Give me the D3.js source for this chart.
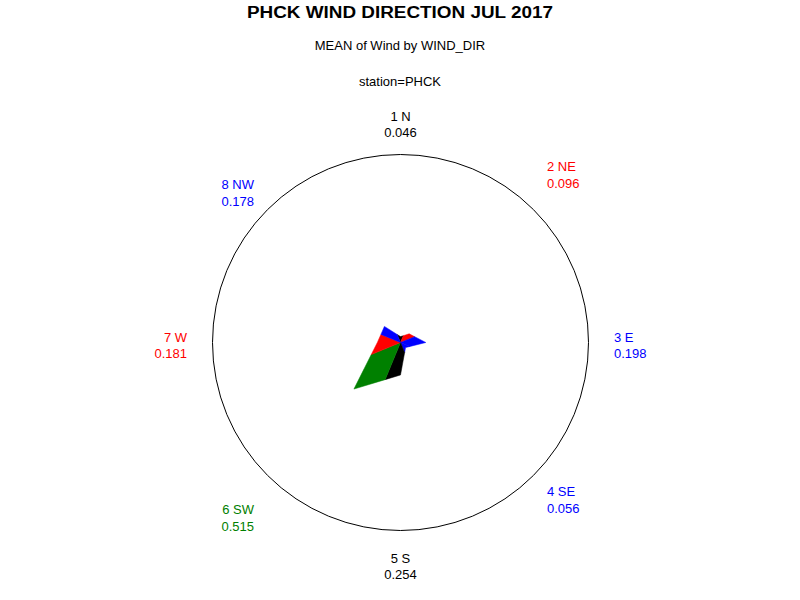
<!DOCTYPE html>
<html>
<head>
<meta charset="utf-8">
<script src="https://cdn.jsdelivr.net/npm/d3@7"></script>
<style>
  body { margin: 0; background: #fff; }
  svg { display: block; font-family: "Liberation Sans", Arial, sans-serif; }
</style>
</head>
<body>
<svg id="chart" width="800" height="600"></svg>
<script>
// wind directions, clockwise from north
const directions = ["1 N", "2 NE", "3 E", "4 SE", "5 S", "6 SW", "7 W", "8 NW"];
const meanWind = [0.046, 0.096, 0.198, 0.056, 0.254, 0.515, 0.181, 0.178];
const sliceColors = ["#000000", "#ff0000", "#0000ff", "#0000ff", "#000000", "#008000", "#ff0000", "#0000ff"];
const starMax = 1.47; // value at the outer circle

const SIZES = { w: 800, h: 600, cx: 400.5, cy: 342.5, r: 188, lineH: 16.6 };

const svg = d3.select("#chart");

// titles
svg.append("text").attr("x", SIZES.w / 2).attr("y", 17.5)
    .attr("text-anchor", "middle").attr("font-weight", "bold")
    .attr("font-size", 16).attr("textLength", 306).attr("lengthAdjust", "spacingAndGlyphs")
    .text("PHCK WIND DIRECTION JUL 2017");
svg.append("text").attr("x", SIZES.w / 2).attr("y", 49.5)
    .attr("text-anchor", "middle").attr("font-size", 13)
    .text("MEAN of Wind by WIND_DIR");
svg.append("text").attr("x", SIZES.w / 2).attr("y", 85.5)
    .attr("text-anchor", "middle").attr("font-size", 13)
    .text("station=PHCK");

const rScale = d3.scaleLinear().domain([0, starMax]).range([0, SIZES.r]);
const step = 2 * Math.PI / directions.length;
const angle = i => i * step;

const g = svg.append("g").attr("transform", `translate(${SIZES.cx},${SIZES.cy})`);

// outer circle
g.append("circle").attr("r", SIZES.r)
    .attr("fill", "none").attr("stroke", "#000").attr("stroke-width", 1);

// where the star edge between two spokes crosses the bisecting ray
function bisect(a, b) {
    return 2 * a * b * Math.cos(step / 2) / (a + b);
}

const n = meanWind.length;
const slices = meanWind.map((v, i) => {
    const prev = meanWind[(i - 1 + n) % n];
    const next = meanWind[(i + 1) % n];
    return {
        color: sliceColors[i],
        pts: [
            { a: 0, v: 0 },
            { a: angle(i) - step / 2, v: bisect(prev, v) },
            { a: angle(i), v: v },
            { a: angle(i) + step / 2, v: bisect(v, next) }
        ]
    };
});

const radial = d3.lineRadial()
    .angle(d => d.a)
    .radius(d => rScale(d.v))
    .curve(d3.curveLinearClosed);

g.selectAll("path.slice")
    .data(slices)
    .enter()
    .append("path")
    .attr("class", "slice")
    .attr("d", d => radial(d.pts))
    .attr("fill", d => d.color)
    .attr("stroke", d => d.color)
    .attr("stroke-width", 0.5);

// labels around the circle
function labelPos(i) {
    const up = Math.round(Math.cos(angle(i)) * 1000) / 1000;
    const right = Math.round(Math.sin(angle(i)) * 1000) / 1000;
    const diag = up !== 0 && right !== 0;
    let x = 0, anchor = "middle";
    if (right !== 0) {
        x = Math.sign(right) * (diag ? 146.5 : 213.5);
        anchor = right > 0 ? "start" : "end";
    }
    const y = diag
        ? -162.6 * Math.sign(up) - 9 * Math.sign(right)
        : -221 * up - 1;
    return { x, y, anchor };
}

const labels = g.selectAll("text.lbl")
    .data(directions)
    .enter()
    .append("text")
    .attr("class", "lbl")
    .attr("font-size", 13)
    .attr("fill", (d, i) => sliceColors[i])
    .attr("text-anchor", (d, i) => labelPos(i).anchor);

labels.append("tspan")
    .attr("x", (d, i) => labelPos(i).x)
    .attr("y", (d, i) => labelPos(i).y)
    .text(d => d);
labels.append("tspan")
    .attr("x", (d, i) => labelPos(i).x)
    .attr("y", (d, i) => labelPos(i).y + SIZES.lineH)
    .text((d, i) => d3.format(".3f")(meanWind[i]));
</script>
</body>
</html>
